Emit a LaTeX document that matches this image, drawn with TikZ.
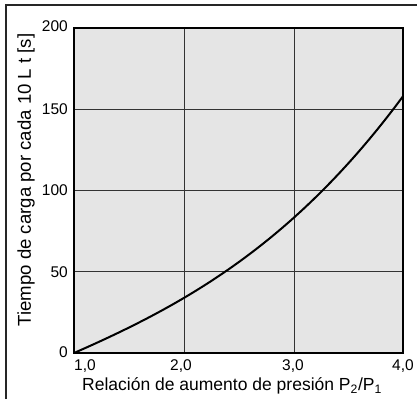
\documentclass[tikz,border=0pt]{standalone}
\usepackage{fontspec}
\setmainfont{Liberation Sans}
\begin{document}
\begin{tikzpicture}[x=1pt,y=1pt,
  lbl/.style={font=\fontsize{15.5}{18}\selectfont, inner sep=0pt},
  ttl/.style={font=\fontsize{17.5}{20}\selectfont, inner sep=0pt},
  ttly/.style={font=\fontsize{18.6}{21}\selectfont, inner sep=0pt},
  gridln/.style={draw=black!80, line width=1pt},
  framebox/.style={draw=black!85, line width=1.4pt}]
\useasboundingbox (0,0) rectangle (417,399);
% outer frame (cropped)
\draw[framebox] (6,0) -- (6,394) -- (417,394);
% plot area
\fill[black!10] (74,46) rectangle (403,371);
\foreach \gx in {184,294} \draw[gridln] (\gx,46) -- (\gx,371);
\foreach \gy in {127.25,208.5,289.75} \draw[gridln] (74,\gy) -- (403,\gy);
\draw[black, line width=1.1pt] (74,46) rectangle (403,371);
% curve
\draw[black, line width=2pt, line cap=round]
  plot[domain=0:3, samples=80, smooth] ({74+\x*109.67},{46+1.625*(29.57*\x+2.5*\x*\x+1.733*\x*\x*\x)});
% y tick labels
\node[lbl, anchor=east] (y200) at (68,373) {200};
\node[lbl, anchor=east] (y150) at (68,289.75) {150};
\node[lbl, anchor=east] (y100) at (68,208.5) {100};
\node[lbl, anchor=east] (y50) at (68,127.25) {50};
\node[lbl, anchor=east] (y0) at (68,47) {0};
% x tick labels
\node[lbl] (x1) at (85,33) {1,0};
\node[lbl] (x2) at (181,33) {2,0};
\node[lbl] (x3) at (293,33) {3,0};
\node[lbl] (x4) at (403,33) {4,0};
% axis titles
\node[ttl, anchor=west] (xt) at (82,13) {Relación de aumento de presión P\textsubscript{2}/P\textsubscript{1}};
\node[ttly, rotate=90] (yt) at (26,219) {Tiempo de carga por cada 10 L t [s]};
\end{tikzpicture}
\end{document}
